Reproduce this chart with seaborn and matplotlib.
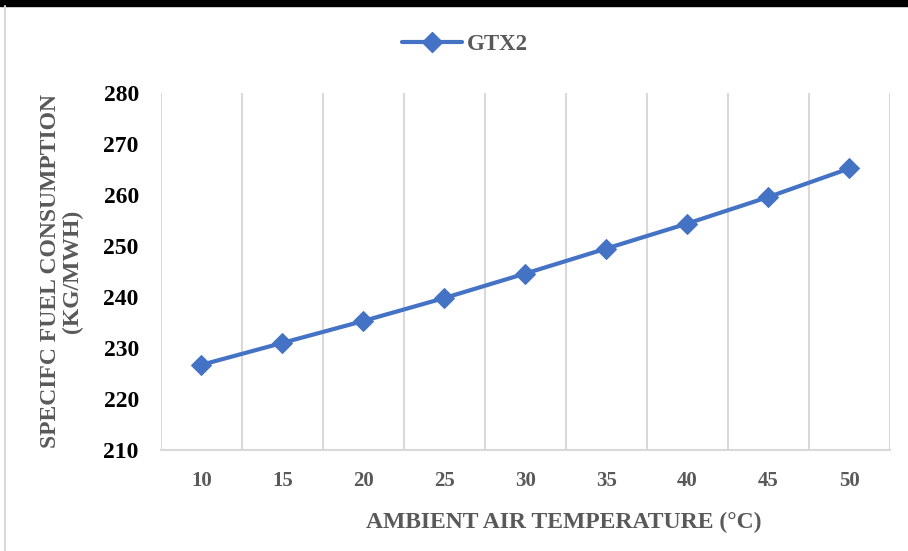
import matplotlib
matplotlib.use("Agg")
import matplotlib.pyplot as plt
from matplotlib.lines import Line2D
from matplotlib.patches import Rectangle
from matplotlib.ticker import FixedLocator
import seaborn as sns
import pandas as pd

temps = ["10", "15", "20", "25", "30", "35", "40", "45", "50"]
sfc = [226.7, 231.0, 235.3, 239.8, 244.6, 249.5, 254.4, 259.6, 265.2]
series_name = "GTX2"
y_ticks = [210, 220, 230, 240, 250, 260, 270, 280]

sns.set_theme(style="white")
plt.rcParams["font.family"] = ["Liberation Serif", "DejaVu Serif"]

BLUE = "#4472C4"
GRAY_TXT = "#595959"
GRID = "#D9D9D9"

df = pd.DataFrame({"temp": temps, "sfc": sfc, "series": series_name})

fig = plt.figure(figsize=(9.08, 5.51), dpi=100)
ax = fig.add_axes([0.1773, 0.1833, 0.8027, 0.648])

sns.lineplot(data=df, x="temp", y="sfc", ax=ax, color=BLUE, linewidth=3.0,
             marker="D", markersize=10, markeredgecolor=BLUE, legend=False, sort=False)

n = len(temps)
ax.set_xlim(-0.5, n - 0.5)
ax.set_ylim(y_ticks[0], y_ticks[-1])
ax.set_yticks(y_ticks)
ax.set_xticks(range(n))
ax.set_xticklabels(temps)
ax.xaxis.set_minor_locator(FixedLocator([i - 0.5 for i in range(n + 1)]))
ax.grid(False)
ax.grid(True, axis="x", which="minor", color=GRID, linewidth=1.5)
ax.tick_params(axis="x", which="both", length=0, pad=15)
ax.tick_params(axis="y", length=0, pad=16)

for lab in ax.get_yticklabels():
    lab.set_fontsize(17)
    lab.set_fontweight("bold")
    lab.set_color("black")
for lab in ax.get_xticklabels():
    lab.set_fontsize(15)
    lab.set_fontweight("bold")
    lab.set_color(GRAY_TXT)

for side in ["top", "left", "right"]:
    ax.spines[side].set_visible(False)
ax.spines["bottom"].set_color(GRID)
ax.spines["bottom"].set_linewidth(1.5)

ax.set_xlabel("AMBIENT AIR TEMPERATURE (°C)", fontsize=17, fontweight="bold",
              color=GRAY_TXT)
ax.xaxis.set_label_coords(0.552, -0.173)
ax.set_ylabel("SPECIFC FUEL CONSUMPTION\n(KG/MWH)", fontsize=17, fontweight="bold",
              color=GRAY_TXT, labelpad=15, linespacing=1.0)

handle = Line2D([], [], color=BLUE, linewidth=3.0, marker="D", markersize=10)
leg = fig.legend([handle], [series_name], loc="center", bbox_to_anchor=(0.512, 0.92),
                 frameon=False, handlelength=2.6, handletextpad=0.2,
                 prop={"family": "Liberation Serif", "weight": "bold", "size": 16.5})
for t in leg.get_texts():
    t.set_color(GRAY_TXT)

# top black bar and left frame line
fig.patches.append(Rectangle((0, 1 - 6 / 551), 1, 6 / 551, transform=fig.transFigure,
                             color="black", zorder=0))
fig.lines.append(Line2D([5 / 908, 5 / 908], [0, 1 - 6 / 551], transform=fig.transFigure,
                        color=GRID, linewidth=1.5))

fig.savefig("out.png", dpi=100)
